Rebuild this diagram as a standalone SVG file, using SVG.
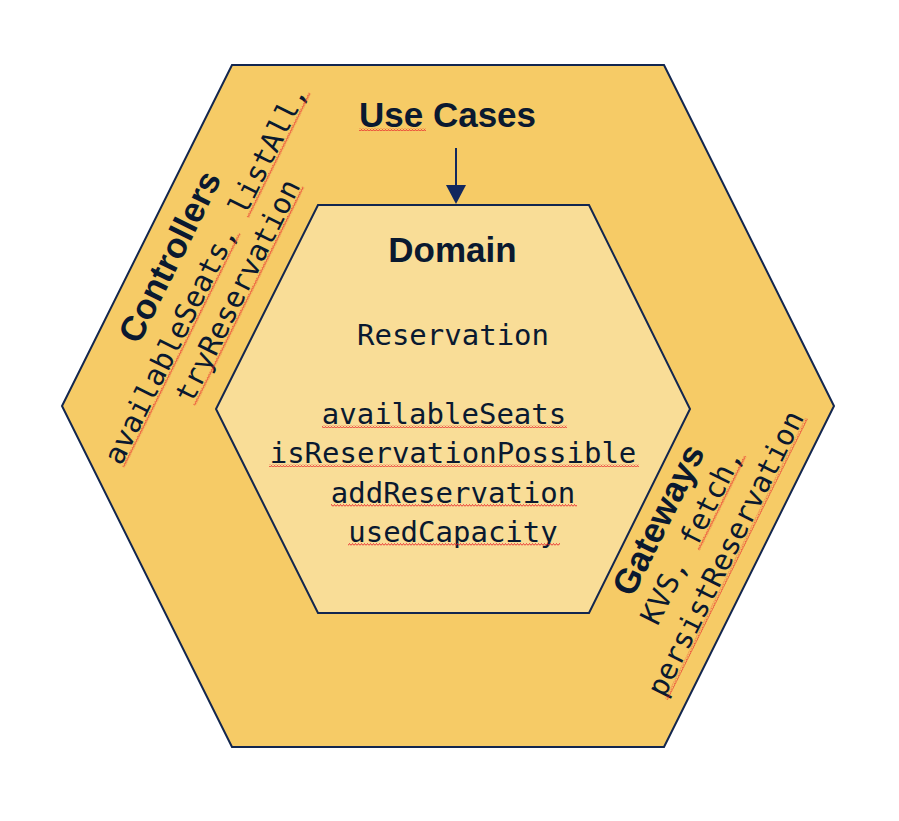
<svg xmlns="http://www.w3.org/2000/svg" width="899" height="821" viewBox="0 0 899 821">
<defs>
<style>
.hex{stroke:#12264F;stroke-width:2;stroke-linejoin:miter}
.title{font-family:"Liberation Sans",Arial,sans-serif;font-weight:bold;font-size:35px;fill:#0A1930;text-anchor:middle}
.mono{font-family:"DejaVu Sans Mono","Liberation Mono",monospace;font-size:29px;fill:#0A1930;text-anchor:middle}
.wavy{fill:url(#wavy)}
</style>
<pattern id="wavy" patternUnits="userSpaceOnUse" width="3" height="3">
<path d="M0,2.5 L1.5,0.5 L3,2.5" fill="none" stroke="#E8262A" stroke-width="0.9"/>
</pattern>
</defs>
<rect width="899" height="821" fill="#FFFFFF"/>
<g id="use-cases">
<polygon class="hex" points="232,65 664,65 834,406 664,747 232,747 62,406" fill="#F6CB66"/>
<text class="title" x="447.5" y="127">Use Cases</text>
<rect class="wavy" x="359" y="128" width="67" height="3"/>
</g>
<g id="domain">
<polygon class="hex" points="318,205 589,205 690,409 589,613 318,613 216,409" fill="#F9DD97"/>
<text class="title" x="452.5" y="262">Domain</text>
<text class="mono" x="453" y="345">Reservation</text>
<text class="mono" x="444" y="424">availableSeats</text>
<text class="mono" x="453" y="463">isReservationPossible</text>
<text class="mono" x="453" y="503">addReservation</text>
<text class="mono" x="453" y="542">usedCapacity</text>
<rect class="wavy" x="322" y="425" width="245" height="3"/>
<rect class="wavy" x="269" y="464" width="370" height="3"/>
<rect class="wavy" x="331" y="504" width="246" height="3"/>
<rect class="wavy" x="348" y="543" width="212" height="3"/>
</g>
<g id="controllers" transform="translate(180.4,262) rotate(-63.5)">
<text class="title" x="0" y="0">Controllers</text>
<text class="mono" x="0" y="38">availableSeats, listAll,</text>
<text class="mono" x="0" y="74">tryReservation</text>
<rect class="wavy" x="-209" y="39" width="261" height="3"/>
<rect class="wavy" x="70" y="39" width="139" height="3"/>
<rect class="wavy" x="-122" y="75" width="244" height="3"/>
</g>
<g id="gateways" transform="translate(669,525.2) rotate(-63.5)">
<text class="title" x="0" y="0">Gateways</text>
<text class="mono" x="0" y="35">KVS, fetch,</text>
<text class="mono" x="0" y="73">persistReservation</text>
<rect class="wavy" x="-9" y="36" width="105" height="3"/>
<rect class="wavy" x="-157" y="74" width="314" height="3"/>
</g>
<g id="connectors">
<line x1="456" y1="148" x2="456" y2="187" stroke="#12285E" stroke-width="2"/>
<polygon points="446,185 466,185 456,204" fill="#12285E"/>
</g>
</svg>
